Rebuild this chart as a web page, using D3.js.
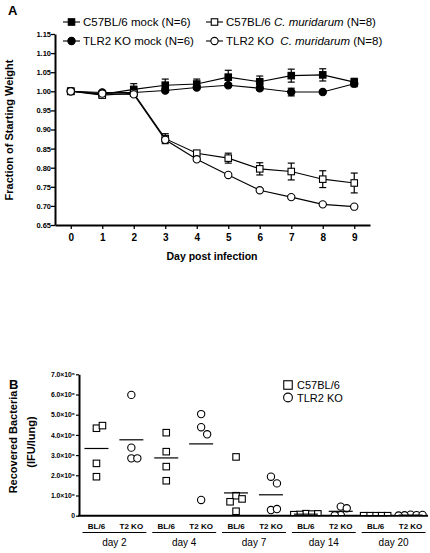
<!DOCTYPE html>
<html><head><meta charset="utf-8">
<script src="https://cdn.jsdelivr.net/npm/d3@7"></script>
<style>
html,body{margin:0;padding:0;background:#fff;}
svg{display:block;font-family:"Liberation Sans",Arial,sans-serif;}
</style></head>
<body>
<svg id="chart" width="430" height="553"></svg>
<script>
// ---------- Panel A data ----------
const days = [0,1,2,3,4,5,6,7,8,9];
const xTicksA = [0,1,2,3,4,5,6,7,8,9];
const yTicksA = [0.65,0.70,0.75,0.80,0.85,0.90,0.95,1.00,1.05,1.10,1.15];
const c57Mock    = [1.000,0.992,1.005,1.016,1.019,1.037,1.025,1.041,1.043,1.024];
const c57MockErr = [0.003,0.004,0.015,0.016,0.013,0.018,0.015,0.017,0.016,0.010];
const tlrMock    = [1.000,0.997,0.997,1.002,1.010,1.016,1.008,0.998,0.998,1.020];
const tlrMockErr = [0.003,0.003,0.004,0.004,0.004,0.004,0.005,0.010,0.004,0.008];
const c57Cm      = [1.000,0.990,0.995,0.876,0.838,0.825,0.797,0.790,0.770,0.760];
const c57CmErr   = [0.003,0.004,0.005,0.013,0.006,0.013,0.016,0.022,0.022,0.026];
const tlrCm      = [1.000,0.994,0.992,0.873,0.822,0.781,0.741,0.723,0.704,0.698];
const tlrCmErr   = [0.003,0.003,0.004,0.006,0.004,0.004,0.004,0.004,0.003,0.003];

// ---------- Panel B data (units of 10^6 IFU) ----------
const dayLabels = ["day 2","day 4","day 7","day 14","day 20"];
const strainLabels = ["BL/6","T2 KO"];
const yTicksB = [0,1,2,3,4,5,6,7];
const bl6Values = [
  [4.33,4.46,2.59,1.93],
  [4.11,3.17,2.43,1.73],
  [2.91,0.99,0.83,0.69,0.22],
  [0.10,0.08,0.06,0.09,0.05],
  [0,0,0,0,0]
];
const t2koValues = [
  [5.98,3.37,2.84,2.84],
  [5.03,4.38,4.03,0.78],
  [1.93,1.60,0.28,0.33],
  [0.45,0.37,0.03,0.02],
  [0.05,0.03,0.02,0.04,0.01]
];

const svg = d3.select("#chart");

// ================= PANEL A =================
const xA = d3.scaleLinear().domain([-0.5,9.5]).range([55,370]);
const yA = d3.scaleLinear().domain([0.65,1.15]).range([225,34]);

svg.append("text").attr("x",8).attr("y",15).attr("font-size",13).attr("font-weight","bold").text("A");

const gA = svg.append("g");
const yAxisA = d3.axisLeft(yA).tickValues(yTicksA).tickFormat(d3.format(".2f")).tickSize(4).tickSizeOuter(0);
const gyA = gA.append("g").attr("transform","translate(55,0)").call(yAxisA);
gyA.select(".domain").attr("stroke-width",2);
gyA.selectAll(".tick line").attr("stroke-width",1.3);
gyA.selectAll("text").attr("font-size",7.5).attr("font-weight","bold").attr("font-family","Liberation Sans, Arial, sans-serif").attr("x",-4);

const xAxisA = d3.axisBottom(xA).tickValues(xTicksA).tickFormat(d3.format("d")).tickSize(4).tickSizeOuter(0);
const gxA = gA.append("g").attr("transform","translate(0,225)").call(xAxisA);
gxA.select(".domain").attr("stroke-width",2);
gxA.selectAll(".tick line").attr("stroke-width",1.3);
gxA.selectAll("text").attr("font-size",10).attr("font-weight","bold").attr("font-family","Liberation Sans, Arial, sans-serif").attr("dy","0.9em");

gA.append("text").attr("x",212).attr("y",260).attr("text-anchor","middle").attr("font-size",10.5).attr("font-weight","bold").text("Day post infection");
gA.append("text").attr("transform","translate(13,130) rotate(-90)").attr("text-anchor","middle").attr("font-size",11).attr("font-weight","bold").text("Fraction of Starting Weight");

const seriesA = [
  {v:c57Mock, e:c57MockErr, shape:"square", fill:"#000"},
  {v:tlrMock, e:tlrMockErr, shape:"circle", fill:"#000"},
  {v:c57Cm,   e:c57CmErr,   shape:"square", fill:"#fff"},
  {v:tlrCm,   e:tlrCmErr,   shape:"circle", fill:"#fff"}
];
const line = d3.line().x((d,i)=>xA(days[i])).y(d=>yA(d));
seriesA.forEach(s=>{
  gA.append("path").attr("d",line(s.v)).attr("fill","none").attr("stroke","#000").attr("stroke-width",1.1);
});
seriesA.forEach(s=>{
  const g = gA.append("g");
  s.v.forEach((v,i)=>{
    const x = xA(days[i]), y1 = yA(v+s.e[i]), y2 = yA(v-s.e[i]);
    g.append("line").attr("x1",x).attr("x2",x).attr("y1",y1).attr("y2",y2).attr("stroke","#000").attr("stroke-width",1.2);
    [y1,y2].forEach(yy=>g.append("line").attr("x1",x-3.5).attr("x2",x+3.5).attr("y1",yy).attr("y2",yy).attr("stroke","#000").attr("stroke-width",1.2));
  });
});
function marker(g, shape, x, y, fill, size){
  if(shape==="square"){
    g.append("rect").attr("x",x-size/2).attr("y",y-size/2).attr("width",size).attr("height",size)
      .attr("fill",fill).attr("stroke","#000").attr("stroke-width",1.1);
  } else {
    g.append("circle").attr("cx",x).attr("cy",y).attr("r",size/2+0.4).attr("fill",fill).attr("stroke","#000").attr("stroke-width",1.1);
  }
}
seriesA.forEach(s=>{
  s.v.forEach((v,i)=>marker(gA, s.shape, xA(days[i]), yA(v), s.fill, 6.5));
});

// legend A
const legA = [
  {x:63, y:22, shape:"square", fill:"#000", parts:[["C57BL/6 mock (N=6)",false]]},
  {x:63, y:41, shape:"circle", fill:"#000", parts:[["TLR2 KO mock (N=6)",false]]},
  {x:206, y:22, shape:"square", fill:"#fff", parts:[["C57BL/6 ",false],["C. muridarum",true],[" (N=8)",false]]},
  {x:206, y:41, shape:"circle", fill:"#fff", parts:[["TLR2 KO  ",false],["C. muridarum",true],[" (N=8)",false]]}
];
legA.forEach(l=>{
  gA.append("line").attr("x1",l.x).attr("x2",l.x+17).attr("y1",l.y).attr("y2",l.y).attr("stroke","#000").attr("stroke-width",1.1);
  marker(gA, l.shape, l.x+8.5, l.y, l.fill, 6.5);
  const t = gA.append("text").attr("x",l.x+20).attr("y",l.y+4).attr("font-size",11.5).attr("xml:space","preserve").style("white-space","pre");
  l.parts.forEach(p=>t.append("tspan").attr("font-style",p[1]?"italic":"normal").text(p[0]));
});

// ================= PANEL B =================
svg.append("text").attr("x",9).attr("y",389).attr("font-size",13).attr("font-weight","bold").text("B");

const cats = [];
dayLabels.forEach((d,di)=>strainLabels.forEach((s,si)=>cats.push({key:d+"|"+s, day:d, strain:s, di, si})));
const xB = d3.scalePoint().domain(cats.map(c=>c.key)).range([79,428]).padding(0.5);
const yB = d3.scaleLinear().domain([0,7]).range([515.7,374.3]);

const gB = svg.append("g");
const fmtB = d=> d===0 ? "0" : d.toFixed(1)+"×10⁶";
const yAxisB = d3.axisLeft(yB).tickValues(yTicksB).tickFormat(fmtB).tickSize(3).tickSizeOuter(0);
const gyB = gB.append("g").attr("transform","translate(79,0)").call(yAxisB);
gyB.select(".domain").attr("stroke-width",2);
gyB.selectAll(".tick line").attr("stroke-width",1.2);
gyB.selectAll("text").attr("font-size",6.8).attr("font-weight","bold").attr("font-family","Liberation Sans, Arial, sans-serif").attr("x",-4);

gB.append("line").attr("x1",78).attr("x2",428).attr("y1",515.7).attr("y2",515.7).attr("stroke","#000").attr("stroke-width",2);

gB.append("text").attr("transform","translate(17,442) rotate(-90)").attr("text-anchor","middle").attr("font-size",11).attr("font-weight","bold").text("Recovered Bacteria");
gB.append("text").attr("transform","translate(35,442) rotate(-90)").attr("text-anchor","middle").attr("font-size",11).attr("font-weight","bold").text("(IFU/lung)");

cats.forEach(c=>{
  gB.append("text").attr("x",xB(c.key)).attr("y",529).attr("text-anchor","middle").attr("font-size",8).attr("font-weight","bold").text(c.strain);
});
dayLabels.forEach(d=>{
  const x1 = xB(d+"|"+strainLabels[0]) - 14, x2 = xB(d+"|"+strainLabels[1]) + 15;
  gB.append("line").attr("x1",x1).attr("x2",x2).attr("y1",532.5).attr("y2",532.5).attr("stroke","#000").attr("stroke-width",1.2);
  gB.append("text").attr("x",(x1+x2)/2).attr("y",546).attr("text-anchor","middle").attr("font-size",10).text(d);
});

svg.append("defs").append("clipPath").attr("id","clipB").append("rect").attr("x",79).attr("y",360).attr("width",351).attr("height",155);
const gPts = gB.append("g").attr("clip-path","url(#clipB)");

function swarm(vals, cx){
  const placed = [];
  const collX = 6, collY = 7.5, step = 3;
  vals.map(v=>({v, y:yB(v)})).forEach(p=>{
    for(let k=0;k<40;k++){
      const off = (k%2===1?1:-1)*Math.ceil(k/2)*step;
      const x = cx+off;
      if(!placed.some(q=>Math.abs(q.x-x)<collX && Math.abs(q.y-p.y)<collY)){ placed.push({x, y:p.y, v:p.v}); break; }
    }
  });
  return placed;
}
cats.forEach(c=>{
  const vals = (c.si===0 ? bl6Values : t2koValues)[c.di];
  const cx = xB(c.key);
  const pts = swarm(vals, cx);
  pts.forEach(p=>marker(gPts, c.si===0?"square":"circle", p.x, p.y, "#fff", 6.5));
  const m = d3.mean(vals);
  gB.append("line").attr("x1",cx-12).attr("x2",cx+12).attr("y1",yB(m)).attr("y2",yB(m)).attr("stroke","#000").attr("stroke-width",1.2);
});

marker(gB,"square",288,385,"#fff",8.5);
gB.append("text").attr("x",297).attr("y",389).attr("font-size",11).text("C57BL/6");
marker(gB,"circle",288,397.5,"#fff",8);
gB.append("text").attr("x",297).attr("y",401.5).attr("font-size",11).text("TLR2 KO");
</script>
</body></html>
